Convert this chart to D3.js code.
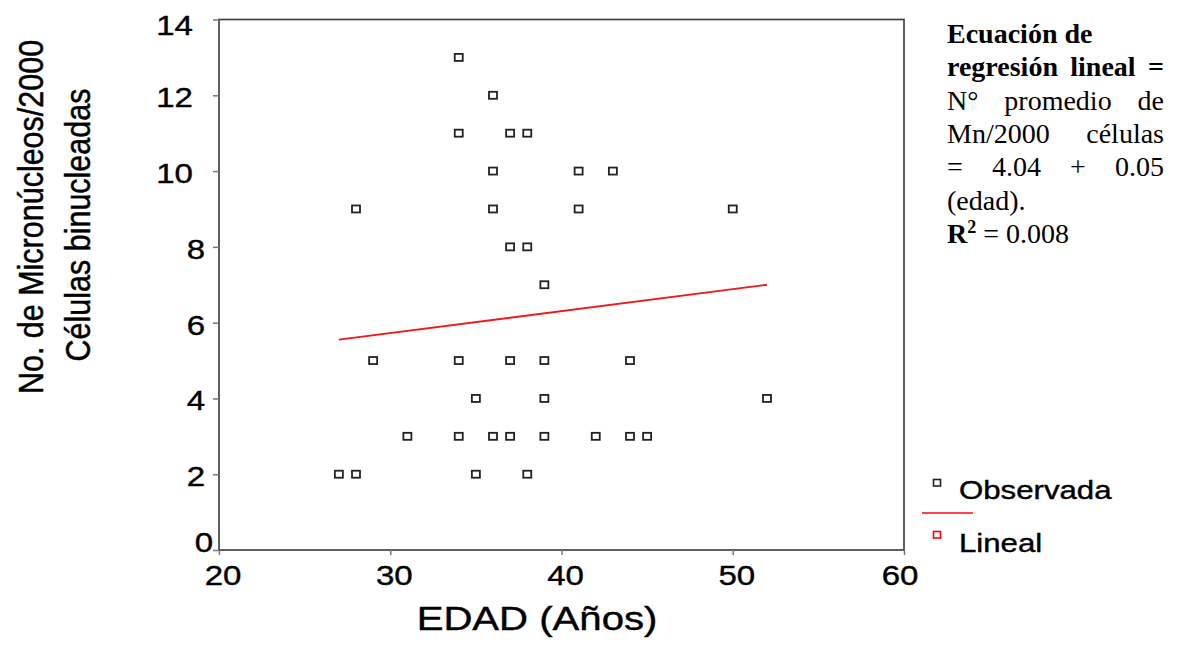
<!DOCTYPE html>
<html>
<head>
<meta charset="utf-8">
<script src="https://cdn.jsdelivr.net/npm/d3@7"></script>
<style>
    body { margin: 0; background: #fff; }
    text { font-family: "Liberation Sans", Arial, sans-serif; fill: #000; }
    .sans { stroke: #000; stroke-width: 0.4; }
    .serif { font-family: "Liberation Serif", "Times New Roman", serif; }
</style>
</head>
<body>
<div id="container"></div>
<script>
// Observed values (age, micronuclei per 2000 binucleated cells)
const ages = [34, 36, 34, 37, 38, 36, 41, 43, 28, 36, 41, 50, 37, 38, 39, 29, 34, 37, 39, 44,
    35, 39, 52, 31, 34, 36, 37, 39, 42, 44, 45, 27, 28, 35, 38];
const micro = [13, 12, 11, 11, 11, 10, 10, 10, 9, 9, 9, 9, 8, 8, 7, 5, 5, 5, 5, 5,
    4, 4, 4, 3, 3, 3, 3, 3, 3, 3, 3, 2, 2, 2, 2];

// Fitted line ends, as drawn
const fitAges = [27, 52];
const fitValues = [5.55, 7.0];

const xTicks = [20, 30, 40, 50, 60];
const yTicks = [0, 2, 4, 6, 8, 10, 12, 14];

const legendLabels = ["Observada", "Lineal"];

// text block on the right: each line is a list of [text, bold] pieces
const noteLines = [
    { words: [["Ecuación", true], ["de", true]], justify: false },
    { words: [["regresión", true], ["lineal", true], ["=", true]], justify: true },
    { words: [["N°", false], ["promedio", false], ["de", false]], justify: true },
    { words: [["Mn/2000", false], ["células", false]], justify: true },
    { words: [["=", false], ["4.04", false], ["+", false], ["0.05", false]], justify: true },
    { words: [["(edad).", false]], justify: false }
];

const width = 1178;
const height = 651;
const stretch = 1.18; // glyphs in the original are a bit wider than tall

const x = d3.scaleLinear().domain([20, 60]).range([219, 904]);
const y = d3.scaleLinear().domain([0, 14]).range([550, 19.5]);

const svg = d3.select("#container")
    .append("svg")
    .attr("width", width)
    .attr("height", height);

const points = ages.map((a, i) => ({ age: a, value: micro[i] }));

// frame
svg.append("rect")
    .attr("x", x(20))
    .attr("y", y(14))
    .attr("width", x(60) - x(20))
    .attr("height", y(0) - y(14))
    .attr("fill", "none")
    .attr("stroke", "#444")
    .attr("stroke-width", 1.7);

// tick marks only, labels are placed by hand below
const xAxis = svg.append("g")
    .attr("transform", "translate(0," + y(0) + ")")
    .call(d3.axisBottom(x).tickValues(xTicks).tickSize(5).tickFormat(""));
const yAxis = svg.append("g")
    .attr("transform", "translate(" + x(20) + ",0)")
    .call(d3.axisLeft(y).tickValues(yTicks).tickSize(6).tickFormat(""));
for (const axis of [xAxis, yAxis]) {
    axis.select(".domain").remove();
    axis.selectAll(".tick line").attr("stroke", "#777").attr("stroke-width", 1.5);
}

svg.selectAll(".xlab")
    .data(xTicks)
    .join("text")
    .attr("class", "xlab sans")
    .attr("text-anchor", "middle")
    .attr("font-size", 28)
    .attr("transform", d => {
        const shift = d === 60 ? -4 : 4;
        return "translate(" + (x(d) + shift) + ",585) scale(" + stretch + ",1)";
    })
    .text(d => d);

svg.selectAll(".ylab")
    .data(yTicks)
    .join("text")
    .attr("class", "ylab sans")
    .attr("text-anchor", "end")
    .attr("font-size", 28)
    .attr("transform", d => {
        let gap = String(d).length > 1 ? 26 : 14;
        let down = 12;
        if (d === 0) { gap = 6; down = 2; }
        if (d === 14) { down = 15; }
        return "translate(" + (x(20) - gap) + "," + (y(d) + down) + ") scale(" + stretch + ",1)";
    })
    .text(d => d);

// axis titles
svg.append("text")
    .attr("class", "sans")
    .attr("text-anchor", "middle")
    .attr("font-size", 34)
    .attr("transform", "translate(537,630) scale(" + stretch + ",1)")
    .text("EDAD (Años)");

svg.append("text")
    .attr("class", "sans")
    .attr("text-anchor", "middle")
    .attr("font-size", 30.5)
    .attr("transform", "translate(43,217) scale(" + stretch + ",1) rotate(-90)")
    .text("No. de Micronúcleos/2000");

svg.append("text")
    .attr("class", "sans")
    .attr("text-anchor", "middle")
    .attr("font-size", 30.5)
    .attr("transform", "translate(90,225) scale(" + stretch + ",1) rotate(-90)")
    .text("Células binucleadas");

// regression line
const line = d3.line()
    .x(d => x(d[0]))
    .y(d => y(d[1]));

svg.append("path")
    .datum(fitAges.map((a, i) => [a, fitValues[i]]))
    .attr("fill", "none")
    .attr("stroke", "#f01818")
    .attr("stroke-width", 1.8)
    .attr("d", line);

// observed points
svg.selectAll(".pt")
    .data(points)
    .join("rect")
    .attr("class", "pt")
    .attr("x", d => x(d.age) - 4)
    .attr("y", d => y(d.value) - 3.5)
    .attr("width", 8)
    .attr("height", 7)
    .attr("fill", "none")
    .attr("stroke", "#222")
    .attr("stroke-width", 1.8);

// legend
const legend = svg.append("g");
legend.append("rect")
    .attr("x", 933.5).attr("y", 479.5).attr("width", 7).attr("height", 6.5)
    .attr("fill", "none").attr("stroke", "#222").attr("stroke-width", 1.6);
legend.append("line")
    .attr("x1", 922).attr("x2", 973).attr("y1", 513).attr("y2", 513)
    .attr("stroke", "#f44").attr("stroke-width", 1.8);
legend.append("rect")
    .attr("x", 933.5).attr("y", 531.5).attr("width", 7).attr("height", 6.5)
    .attr("fill", "none").attr("stroke", "#f00").attr("stroke-width", 1.6);
legend.selectAll(".leg")
    .data(legendLabels)
    .join("text")
    .attr("class", "leg sans")
    .attr("font-size", 26)
    .attr("transform", (d, i) => "translate(959," + (499 + i * 53) + ") scale(1.2,1)")
    .text(d => d);

// equation note, justified like the document text
const noteLeft = 947;
const noteRight = 1164;
const noteSize = 28;
noteLines.forEach((ln, i) => {
    const base = 43 + i * 33.3;
    const nodes = ln.words.map(w => svg.append("text")
        .attr("class", "serif")
        .attr("font-size", noteSize)
        .attr("font-weight", w[1] ? "bold" : "normal")
        .attr("y", base)
        .text(w[0]));
    const widths = nodes.map(n => n.node().getComputedTextLength());
    const total = d3.sum(widths);
    let gap = noteSize * 0.25;
    if (ln.justify && nodes.length > 1) {
        gap = (noteRight - noteLeft - total) / (nodes.length - 1);
    }
    let cx = noteLeft;
    nodes.forEach((n, j) => {
        n.attr("x", cx);
        cx += widths[j] + gap;
    });
});

// R² line
const r2 = svg.append("text")
    .attr("class", "serif")
    .attr("font-size", noteSize)
    .attr("x", noteLeft)
    .attr("y", 43 + 6 * 33.3);
r2.append("tspan").attr("font-weight", "bold").text("R");
r2.append("tspan").attr("font-weight", "bold").attr("font-size", 18).attr("dy", -10).text("2");
r2.append("tspan").attr("dy", 10).text(" = 0.008");
</script>
</body>
</html>
